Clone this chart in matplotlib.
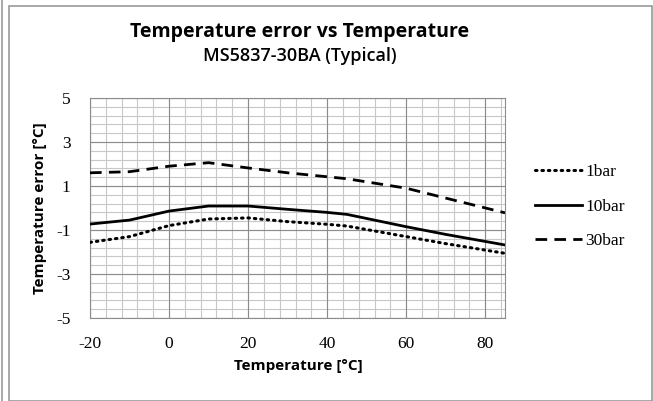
import matplotlib
matplotlib.use("Agg")
import matplotlib.pyplot as plt
from matplotlib.lines import Line2D
from matplotlib.patches import Rectangle
import numpy as np

plt.rcParams["axes.unicode_minus"] = False

# ── Datos ─────────────────────────────────────────────────
temperatura = [-20, -10, 0, 10, 20, 30, 40, 45, 60, 70, 85]
error_1bar  = [-1.56, -1.30, -0.80, -0.50, -0.45, -0.62, -0.74, -0.82, -1.30, -1.62, -2.06]
error_10bar = [-0.73, -0.55, -0.14, 0.09, 0.09, -0.06, -0.20, -0.29, -0.85, -1.20, -1.68]
error_30bar = [1.60, 1.65, 1.90, 2.06, 1.82, 1.60, 1.42, 1.33, 0.90, 0.45, -0.22]

series = [
    ("1bar",  error_1bar,  (0, (0.5, 1.6))),
    ("10bar", error_10bar, "-"),
    ("30bar", error_30bar, (0, (4.2, 2.6))),
]

xticks = [-20, 0, 20, 40, 60, 80]
yticks = [-5, -3, -1, 1, 3, 5]

C_GRID_MAJ = "#8c8c8c"
C_GRID_MIN = "#c8c8c8"

fig = plt.figure(figsize=(6.53, 4.01), dpi=100, facecolor="white")
ax = fig.add_axes([90 / 653, 1 - 318 / 401, 415 / 653, 220 / 401])

# grilla estilo Excel
for x in np.arange(-20, 85.1, 4):
    ax.axvline(x, color=C_GRID_MIN, linewidth=0.8, zorder=1)
for x in xticks:
    ax.axvline(x, color=C_GRID_MAJ, linewidth=0.8, zorder=1.5)
for y in np.arange(-5, 5.01, 0.4):
    ax.axhline(y, color=C_GRID_MIN, linewidth=0.8, zorder=1)
for y in yticks:
    ax.axhline(y, color=C_GRID_MAJ, linewidth=0.8, zorder=1.5)

for nombre, valores, estilo in series:
    lw = 2.2 if nombre == "1bar" else 2.0
    ln, = ax.plot(temperatura, valores, color="black", linewidth=lw,
                  linestyle=estilo, label=nombre, zorder=3)
    if nombre == "1bar":
        ln.set_dash_capstyle("round")

ax.set_xlim(-20, 85)
ax.set_ylim(-5, 5)
ax.set_xticks(xticks)
ax.set_yticks(yticks)
ax.tick_params(axis="x", length=0, pad=13, labelsize=12.5)
ax.tick_params(axis="y", length=0, pad=14, labelsize=12.5)
for lab in ax.get_xticklabels() + ax.get_yticklabels():
    lab.set_fontfamily("Liberation Serif")
for s in ax.spines.values():
    s.set_color(C_GRID_MAJ)
    s.set_linewidth(0.8)

fig.text(300 / 653, 1 - 32 / 401, "Temperature error vs Temperature",
         ha="center", va="center", fontsize=14, fontweight="bold",
         family="Open Sans")
fig.text(300 / 653, 1 - 56 / 401, "MS5837-30BA (Typical)",
         ha="center", va="center", fontsize=13, fontweight="semibold",
         family="Open Sans")
fig.text(298 / 653, 1 - 366 / 401, "Temperature [°C]",
         ha="center", va="center", fontsize=11, fontweight="bold",
         family="Open Sans")
fig.text(40 / 653, 1 - 208 / 401, "Temperature error [°C]",
         ha="center", va="center", fontsize=11, fontweight="bold",
         family="Open Sans", rotation=90)

leg = ax.legend(loc="upper left", bbox_to_anchor=(1.035, 0.77), frameon=False,
                handlelength=2.7, handletextpad=0.2, labelspacing=1.05,
                prop={"family": "Liberation Serif", "size": 12.5})

# marco de la imagen
fig.add_artist(Rectangle((9 / 653, 0.5 / 401), 643 / 653, 394.5 / 401,
                         transform=fig.transFigure, fill=False,
                         edgecolor="#9a9a9a", linewidth=1.2))
fig.add_artist(Line2D([1.5 / 653, 1.5 / 653], [0, 1], transform=fig.transFigure,
                      color="#9a9a9a", linewidth=1.2))

plt.savefig("out.png", dpi=100, facecolor="white")
